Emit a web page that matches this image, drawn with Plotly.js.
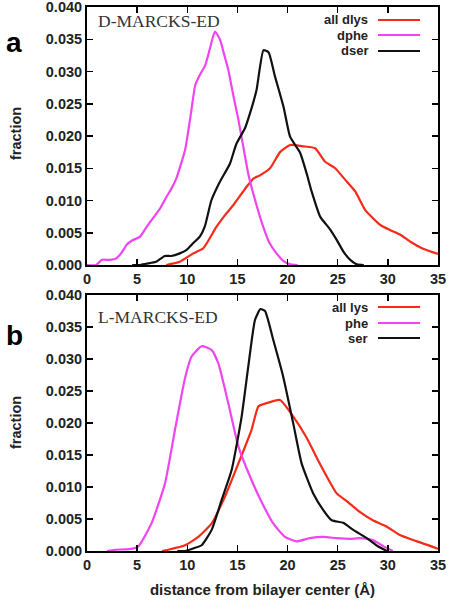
<!DOCTYPE html>
<html>
<head>
<meta charset="utf-8">
<script src="https://cdn.plot.ly/plotly-3.0.1.min.js"></script>
<style>html,body{margin:0;padding:0;background:#fff;}#plot{width:451px;height:600px;}</style>
</head>
<body>
<div id="plot"></div>
<script>
// ---- Panel a: D-MARCKS-ED ----
const panelA_title = 'D-MARCKS-ED';
const panelA_names = ['all dlys', 'dphe', 'dser'];
const dlys_x = [7.9, 9.25, 10.6, 11.6, 12.9, 13.9, 14.6, 15.9, 16.6, 17.25, 18.25, 19.25, 20.25, 21.6, 22.75, 23.75, 24.75, 25.75, 26.75, 27.75, 29.25, 30.25, 31.25, 32.25, 33.4, 35];
const dlys_y = [0, 0.0005, 0.0018, 0.0026, 0.0059, 0.008, 0.0093, 0.0121, 0.0134, 0.0139, 0.015, 0.0175, 0.0186, 0.0184, 0.0181, 0.016, 0.015, 0.0132, 0.0114, 0.0085, 0.0062, 0.0054, 0.0047, 0.0036, 0.0026, 0.0017];
const dphe_x = [0, 0.9, 1.5, 2.3, 2.9, 3.4, 4.0, 4.5, 5.3, 5.9, 6.7, 7.3, 7.9, 8.4, 8.9, 9.4, 9.8, 10.3, 10.8, 11.3, 11.8, 12.3, 12.75, 13.25, 13.7, 14.1, 14.6, 15.1, 15.6, 16.1, 16.9, 17.6, 18.2, 18.9, 19.6, 20.3, 21.0];
const dphe_y = [0, 0, 0.0008, 0.0008, 0.001, 0.0018, 0.0032, 0.0038, 0.0044, 0.0058, 0.0075, 0.0088, 0.0105, 0.0118, 0.0134, 0.0158, 0.0180, 0.0228, 0.0279, 0.0296, 0.0310, 0.0338, 0.0362, 0.0350, 0.0325, 0.0302, 0.0262, 0.0225, 0.0182, 0.0140, 0.0093, 0.0058, 0.0034, 0.0018, 0.0006, 0.0001, 0];
const dser_x = [4.5, 5.3, 5.9, 6.9, 7.75, 8.4, 9.25, 9.9, 10.6, 11.25, 11.75, 12.4, 13.25, 14.25, 14.9, 15.75, 16.25, 16.9, 17.6, 18.1, 18.75, 19.6, 20.25, 21.25, 21.9, 22.4, 23.25, 24.25, 24.9, 25.6, 26.25, 26.9, 27.6];
const dser_y = [0, 0, 0.0002, 0.0005, 0.0014, 0.0014, 0.0018, 0.0023, 0.0034, 0.0044, 0.006, 0.01, 0.0129, 0.0157, 0.0188, 0.0212, 0.0235, 0.0271, 0.0333, 0.033, 0.0292, 0.0245, 0.0199, 0.0174, 0.0142, 0.0114, 0.0075, 0.0055, 0.0039, 0.002, 0.0008, 0.0001, 0];

// ---- Panel b: L-MARCKS-ED ----
const panelB_title = 'L-MARCKS-ED';
const panelB_names = ['all lys', 'phe', 'ser'];
const lys_x = [7.5, 8.1, 9.77, 11.1, 12.43, 13.76, 15.1, 16.4, 17.1, 17.9, 19.24, 20.57, 21.9, 23.2, 24.9, 25.9, 27.2, 28.5, 29.9, 31.2, 32.9, 34.9, 35];
const lys_y = [0, 0.0002, 0.0009, 0.0022, 0.0043, 0.0085, 0.0137, 0.0189, 0.0226, 0.0231, 0.0236, 0.021, 0.0177, 0.0137, 0.009, 0.0078, 0.0061, 0.0048, 0.0038, 0.0025, 0.0015, 0.0004, 0.0003];
const phe_x = [2.0, 2.8, 4.2, 5.1, 6.45, 7.78, 8.77, 9.77, 10.43, 11.43, 12.43, 13.1, 14.1, 15.1, 16.4, 17.4, 18.57, 19.74, 20.9, 22.2, 23.56, 24.9, 26.2, 27.2, 28.5, 29.5, 30.5];
const phe_y = [0, 0.0002, 0.0003, 0.0007, 0.0044, 0.0106, 0.0189, 0.027, 0.0304, 0.032, 0.0314, 0.0293, 0.023, 0.0163, 0.0111, 0.0077, 0.0043, 0.0022, 0.0015, 0.002, 0.0022, 0.002, 0.0019, 0.002, 0.0017, 0.0008, 0];
const ser_x = [9.0, 9.77, 10.6, 11.43, 12.43, 13.43, 14.43, 15.42, 16.08, 16.75, 17.3, 17.75, 18.57, 19.57, 20.57, 21.4, 22.56, 23.56, 24.4, 25.55, 26.55, 27.9, 29.04, 29.9];
const ser_y = [0, 0, 0.0004, 0.0009, 0.0033, 0.008, 0.0127, 0.021, 0.0288, 0.0361, 0.0378, 0.0375, 0.033, 0.0272, 0.0199, 0.0137, 0.009, 0.0064, 0.0048, 0.0044, 0.0033, 0.002, 0.0007, 0];

// ---- Axis ticks ----
const xTicks = [0, 5, 10, 15, 20, 25, 30, 35];
const yTicks = [0, 0.005, 0.010, 0.015, 0.020, 0.025, 0.030, 0.035, 0.040];
const xTitle = 'distance from bilayer center (Å)';
const yTitle = 'fraction';
const panelLabels = ['a', 'b'];

const colors = ['#f52a18', '#f044f0', '#111111'];
const W = 451, H = 600;
const px = v => v / W;
const py = v => 1 - v / H;

const sans = 'Liberation Sans, Arial, sans-serif';
function line(x, y, c, xa, ya, name) {
  return {x: x, y: y, type: 'scatter', mode: 'lines', name: name, xaxis: xa, yaxis: ya,
          line: {color: c, width: 2.2, shape: 'spline', smoothing: 0.5}, showlegend: false, hoverinfo: 'skip'};
}

const traces = [
  line(dlys_x, dlys_y, colors[0], 'x2', 'y2', panelA_names[0]),
  line(dphe_x, dphe_y, colors[1], 'x2', 'y2', panelA_names[1]),
  line(dser_x, dser_y, colors[2], 'x2', 'y2', panelA_names[2]),
  line(lys_x, lys_y, colors[0], 'x', 'y', panelB_names[0]),
  line(phe_x, phe_y, colors[1], 'x', 'y', panelB_names[1]),
  line(ser_x, ser_y, colors[2], 'x', 'y', panelB_names[2])
];

const tickFont = {family: sans, size: 14.5, color: '#222', weight: 'bold'};
function xAxis(anchor, withTitle) {
  const a = {domain: [px(87), px(438)], anchor: anchor, range: [0, 35], tickvals: xTicks,
    ticks: 'inside', ticklen: 6, tickwidth: 1.5, tickcolor: '#000', mirror: 'ticks',
    showline: true, linewidth: 2, linecolor: '#000', showgrid: false, zeroline: false,
    ticklabeloverflow: 'allow', tickfont: tickFont, fixedrange: true};
  if (withTitle) a.title = {text: xTitle, font: {family: sans, size: 15, color: '#222', weight: 'bold'}, standoff: 12};
  return a;
}
function yAxis(anchor, top, bottom) {
  return {domain: [py(bottom), py(top)], anchor: anchor, range: [0, 0.04], tickvals: yTicks,
    tickformat: '.3f', ticks: 'inside', ticklen: 6, tickwidth: 1.5, tickcolor: '#000', mirror: 'ticks',
    showline: true, linewidth: 2, linecolor: '#000', showgrid: false, zeroline: false,
    ticklabeloverflow: 'allow', tickfont: tickFont, fixedrange: true};
}

const annotations = [];
const shapes = [];
function panelDecor(title, names, titleY, legendRows, yCenter, label, labelY) {
  annotations.push({xref: 'paper', yref: 'paper', x: px(96), y: py(titleY), xanchor: 'left', yanchor: 'middle',
    text: title, showarrow: false, font: {family: 'Liberation Serif, serif', size: 17.5, color: '#333'}});
  names.forEach((n, i) => {
    annotations.push({xref: 'paper', yref: 'paper', x: px(370), y: py(legendRows[i]), xanchor: 'right', yanchor: 'middle',
      text: n, showarrow: false, font: {family: sans, size: 13, color: '#222', weight: 'bold'}});
    shapes.push({type: 'line', xref: 'paper', yref: 'paper', x0: px(378), x1: px(420),
      y0: py(legendRows[i]), y1: py(legendRows[i]), line: {color: colors[i], width: 2.2}});
  });
  annotations.push({xref: 'paper', yref: 'paper', x: px(16), y: py(yCenter), xanchor: 'center', yanchor: 'middle',
    text: yTitle, textangle: -90, showarrow: false, font: {family: sans, size: 14.5, color: '#222', weight: 'bold'}});
  annotations.push({xref: 'paper', yref: 'paper', x: px(14), y: py(labelY), xanchor: 'center', yanchor: 'middle',
    text: label, showarrow: false, font: {family: sans, size: 28, color: '#000', weight: 'bold'}});
}
panelDecor(panelA_title, panelA_names, 21, [20, 35, 51], 134, panelLabels[0], 42);
panelDecor(panelB_title, panelB_names, 317, [307, 323, 338], 423, panelLabels[1], 335);

const layout = {
  width: W, height: H, margin: {l: 0, r: 0, t: 0, b: 0},
  paper_bgcolor: '#fff', plot_bgcolor: '#fff', showlegend: false,
  xaxis: xAxis('y', true), yaxis: yAxis('x', 295, 551),
  xaxis2: xAxis('y2', false), yaxis2: yAxis('x2', 7, 265),
  annotations: annotations, shapes: shapes
};
Plotly.newPlot('plot', traces, layout, {staticPlot: true, displayModeBar: false});
</script>
</body>
</html>
